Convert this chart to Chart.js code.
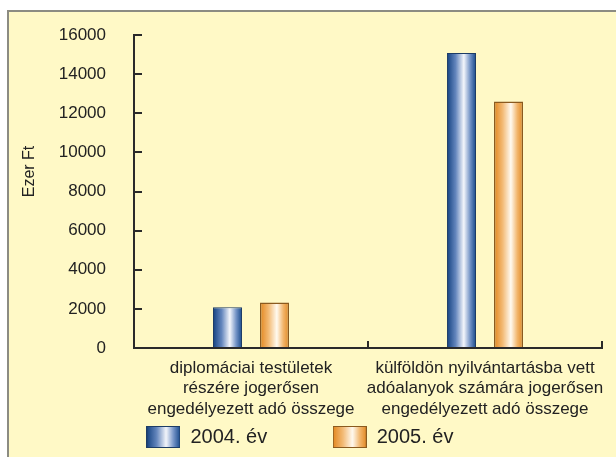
<!DOCTYPE html>
<html>
<head>
<meta charset="utf-8">
<script src="https://cdn.jsdelivr.net/npm/chart.js@4.4.1/dist/chart.umd.min.js"></script>
<style>
  html, body { margin: 0; padding: 0; background: #fff; }
  #frame {
    position: absolute; left: 7px; top: 10px;
    width: 607px; height: 445px;
    background: #fff9c6;
    border-left: 2px solid #8c8c82;
    border-top: 2px solid #8c8c82;
  }
  #myChart { display: block; }
</style>
</head>
<body>
<div id="frame"><canvas id="myChart" width="607" height="445"></canvas></div>
<script>
var categories = [
    ["diplomáciai testületek", "részére jogerősen", "engedélyezett adó összege"],
    ["külföldön nyilvántartásba vett", "adóalanyok számára jogerősen", "engedélyezett adó összege"]
];
var seriesNames = ["2004. év", "2005. év"];
var values2004 = [2080, 15080];
var values2005 = [2330, 12600];
var yTicks = [0, 2000, 4000, 6000, 8000, 10000, 12000, 14000, 16000];

var FONT = "'Liberation Sans', Arial, Helvetica, sans-serif";

// colour stops for the cylinder look (left edge -> highlight -> right edge)
var blueStops = [[0, '#134180'], [0.3, '#6486bd'], [0.58, '#f4f6fb'], [0.8, '#7393c6'], [1, '#16488a']];
var orangeStops = [[0, '#e3861d'], [0.3, '#f3bb76'], [0.58, '#fffaf0'], [0.8, '#f2b66c'], [1, '#e28822']];

function barFill(stops, solid) {
    return function (c) {
        var el = c.element;
        if (!el || !isFinite(el.x) || !isFinite(el.width)) return solid;
        var g = c.chart.ctx.createLinearGradient(el.x - el.width / 2, 0, el.x + el.width / 2, 0);
        stops.forEach(function (s) { g.addColorStop(s[0], s[1]); });
        return g;
    };
}

function legendSwatch(stops, border) {
    var cv = document.createElement('canvas');
    cv.width = 34; cv.height = 22;
    var x = cv.getContext('2d');
    var g = x.createLinearGradient(0, 0, 34, 0);
    stops.forEach(function (s) { g.addColorStop(s[0], s[1]); });
    x.fillStyle = g;
    x.fillRect(0, 0, 34, 22);
    x.strokeStyle = border;
    x.lineWidth = 1;
    x.strokeRect(0.5, 0.5, 33, 21);
    return cv;
}
var swatches = [legendSwatch(blueStops, '#1d3c66'), legendSwatch(orangeStops, '#8a5a1f')];
// trailing spaces widen the legend items to match the reference spacing
var legendPad = ['          ', '  '];

var ctx = document.getElementById('myChart').getContext('2d');
var chart = new Chart(ctx, {
    type: 'bar',
    data: {
        labels: categories,
        datasets: [{
            label: seriesNames[0],
            data: values2004,
            backgroundColor: barFill(blueStops, '#4f75b0'),
            borderColor: '#1d3c66',
            borderWidth: 1,
            borderSkipped: 'bottom',
            categoryPercentage: 0.402,
            barPercentage: 0.617
        },
        {
            label: seriesNames[1],
            data: values2005,
            backgroundColor: barFill(orangeStops, '#f0ae5e'),
            borderColor: '#8a5a1f',
            borderWidth: 1.5,
            borderSkipped: 'bottom',
            categoryPercentage: 0.402,
            barPercentage: 0.617
        }]
    },
    options: {
        responsive: false,
        animation: false,
        layout: { padding: { top: 0, right: 14, left: 0, bottom: 0 } },
        plugins: {
            tooltip: { enabled: false },
            legend: {
                position: 'bottom',
                labels: {
                    usePointStyle: true,
                    pointStyleWidth: 34,
                    boxHeight: 22,
                    padding: 10,
                    color: '#222',
                    font: { family: FONT, size: 20 },
                    generateLabels: function (ch) {
                        return ch.data.datasets.map(function (ds, i) {
                            return {
                                text: ds.label + legendPad[i],
                                pointStyle: swatches[i],
                                fillStyle: 'transparent',
                                strokeStyle: 'transparent',
                                lineWidth: 0,
                                datasetIndex: i,
                                fontColor: '#222'
                            };
                        });
                    }
                }
            }
        },
        scales: {
            x: {
                offset: true,
                border: { color: '#2a2a2a', width: 2 },
                grid: { offset: true, drawOnChartArea: false, tickLength: -7, color: '#2a2a2a', lineWidth: 2 },
                ticks: { color: '#222', padding: 17, autoSkip: false, maxRotation: 0, font: { family: FONT, size: 17, lineHeight: 1.2 } },
                afterFit: function (s) {
                    s.height = 69;
                    // wide category labels should not shrink the plot area
                    s.paddingLeft = 0;
                    s.paddingRight = 0;
                }
            },
            y: {
                min: 0,
                max: 16000,
                border: { color: '#2a2a2a', width: 2 },
                grid: { drawOnChartArea: false, tickLength: -8, color: '#2a2a2a', lineWidth: 2 },
                afterBuildTicks: function (s) { s.ticks = yTicks.map(function (v) { return { value: v }; }); },
                ticks: {
                    color: '#222', padding: 36, font: { family: FONT, size: 17 },
                    callback: function (v) { return String(v); }
                },
                title: {
                    display: true,
                    text: '         Ezer Ft',
                    color: '#222',
                    font: { family: FONT, size: 16 },
                    padding: { top: 11, bottom: 0 }
                },
                afterFit: function (s) {
                    s.width = 125;
                    // the large label padding would otherwise push the plot area down
                    s.paddingTop = 23;
                    s.paddingBottom = 0;
                }
            }
        }
    }
});
// second pass so the bar gradients can read the laid-out bar positions
chart.update('none');
</script>
</body>
</html>
